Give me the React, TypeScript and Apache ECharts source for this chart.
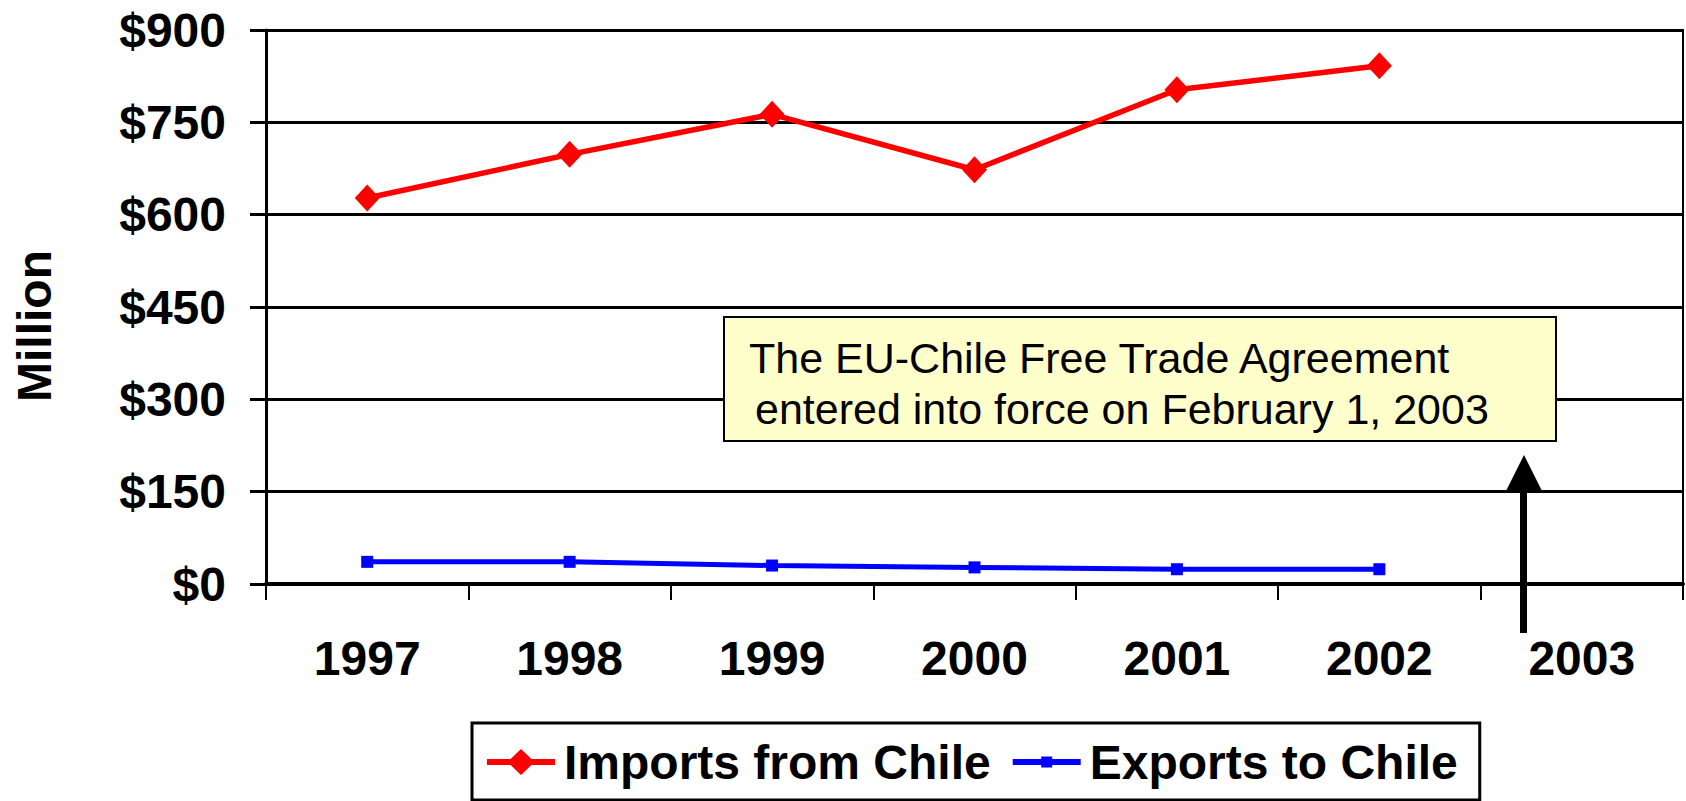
import React, { useEffect, useRef } from "react";
import * as echarts from "echarts";

const categories = ["1997", "1998", "1999", "2000", "2001", "2002", "2003"];
const importsFromChile = [627, 698, 763, 673, 803, 842];
const exportsToChile = [36, 36, 30, 27, 24, 24];
const seriesNames = ["Imports from Chile", "Exports to Chile"];
const yMin = 0;
const yMax = 900;
const yStep = 150;
const yTitle = "Million";
const noteLines = ["The EU-Chile Free Trade Agreement", "entered into force on February 1, 2003"];

const FONT = "'Liberation Sans', Arial, Helvetica, sans-serif";

export default function App() {
  const ref = useRef<HTMLDivElement>(null);
  useEffect(() => {
    if (!ref.current) return;
    const chart = echarts.init(ref.current, null, { renderer: "svg" });
    const exportsIcon =
      "path://M0,0 L0.01,0 L0.01,0.01 Z M68,32 L67.99,32 L67.99,31.99 Z M0,13 L68,13 L68,19 L0,19 Z M28.5,10.5 L39.5,10.5 L39.5,21.5 L28.5,21.5 Z";
    const importsIcon =
      "path://M0,0 L0.01,0 L0.01,0.01 Z M68,32 L67.99,32 L67.99,31.99 Z M0,13 L68,13 L68,19 L0,19 Z M34,3 L47.5,16 L34,29 L20.5,16 Z";
    chart.setOption({
      animation: false,
      backgroundColor: "#fff",
      grid: {
        left: 266,
        right: 3,
        top: 30,
        bottom: 217,
        containLabel: false,
        outerBoundsMode: "none",
        show: true,
        borderColor: "#000",
        borderWidth: 2,
        backgroundColor: "transparent",
      },
      legend: {
        left: 472,
        top: 723,
        orient: "horizontal",
        padding: [15, 22, 14, 15],
        itemWidth: 68,
        itemHeight: 32,
        itemGap: 22,
        borderColor: "#000",
        borderWidth: 3,
        backgroundColor: "#fff",
        itemStyle: { borderWidth: 0 },
        textStyle: {
          fontFamily: FONT,
          fontSize: 48,
          fontWeight: "bold",
          color: "#000",
          padding: [0, 0, 0, 4],
        },
        data: [
          { name: seriesNames[0], icon: importsIcon },
          { name: seriesNames[1], icon: exportsIcon },
        ],
      },
      xAxis: {
        type: "category",
        data: categories,
        boundaryGap: true,
        axisLine: { show: true, lineStyle: { color: "#000", width: 4 } },
        axisTick: { show: true, length: 16, inside: false, lineStyle: { color: "#000", width: 2 } },
        axisLabel: {
          margin: 50,
          fontFamily: FONT,
          fontSize: 48,
          fontWeight: "bold",
          color: "#000",
          interval: 0,
        },
        splitLine: { show: false },
      },
      yAxis: {
        type: "value",
        min: yMin,
        max: yMax,
        interval: yStep,
        axisLine: { show: true, lineStyle: { color: "#000", width: 3 } },
        axisTick: { show: true, length: 16, inside: false, lineStyle: { color: "#000", width: 3 } },
        axisLabel: {
          margin: 40,
          fontFamily: FONT,
          fontSize: 48,
          fontWeight: "bold",
          color: "#000",
          formatter: (v: number) => "$" + v,
        },
        splitLine: { show: true, lineStyle: { color: "#000", width: 3 } },
      },
      series: [
        {
          name: seriesNames[0],
          type: "line",
          data: importsFromChile,
          color: "#FF0000",
          lineStyle: { color: "#FF0000", width: 5.5 },
          itemStyle: { color: "#FF0000" },
          symbol: "diamond",
          symbolSize: [25, 27],
          showAllSymbol: true,
          z: 3,
        },
        {
          name: seriesNames[1],
          type: "line",
          data: exportsToChile,
          color: "#0000FF",
          lineStyle: { color: "#0000FF", width: 5 },
          itemStyle: { color: "#0000FF" },
          symbol: "rect",
          symbolSize: 12,
          showAllSymbol: true,
          z: 3,
        },
      ],
      graphic: [
        {
          type: "text",
          x: 34,
          y: 326,
          rotation: Math.PI / 2,
          style: {
            text: yTitle,
            font: `bold 48px ${FONT}`,
            fill: "#000",
            align: "center",
            verticalAlign: "middle",
          },
        },
        {
          type: "rect",
          z: 10,
          shape: { x: 724, y: 317, width: 832, height: 124 },
          style: { fill: "#FFFFCC", stroke: "#000", lineWidth: 2 },
        },
        {
          type: "text",
          z: 11,
          x: 749,
          y: 357.5,
          style: {
            text: noteLines[0],
            font: `43px ${FONT}`,
            fill: "#000",
            align: "left",
            verticalAlign: "middle",
          },
        },
        {
          type: "text",
          z: 11,
          x: 755,
          y: 408.5,
          style: {
            text: noteLines[1],
            font: `43px ${FONT}`,
            fill: "#000",
            align: "left",
            verticalAlign: "middle",
          },
        },
        {
          type: "line",
          z: 11,
          shape: { x1: 1523.5, y1: 486, x2: 1523.5, y2: 633 },
          style: { stroke: "#000", lineWidth: 7 },
        },
        {
          type: "polygon",
          z: 11,
          shape: { points: [[1524, 455], [1541.5, 490], [1506.5, 490]] },
          style: { fill: "#000" },
        },
      ],
    });
    return () => chart.dispose();
  }, []);
  return (
    <div
      ref={ref}
      style={{ position: "fixed", left: 0, top: 0, width: 1686, height: 801, background: "#fff" }}
    />
  );
}
